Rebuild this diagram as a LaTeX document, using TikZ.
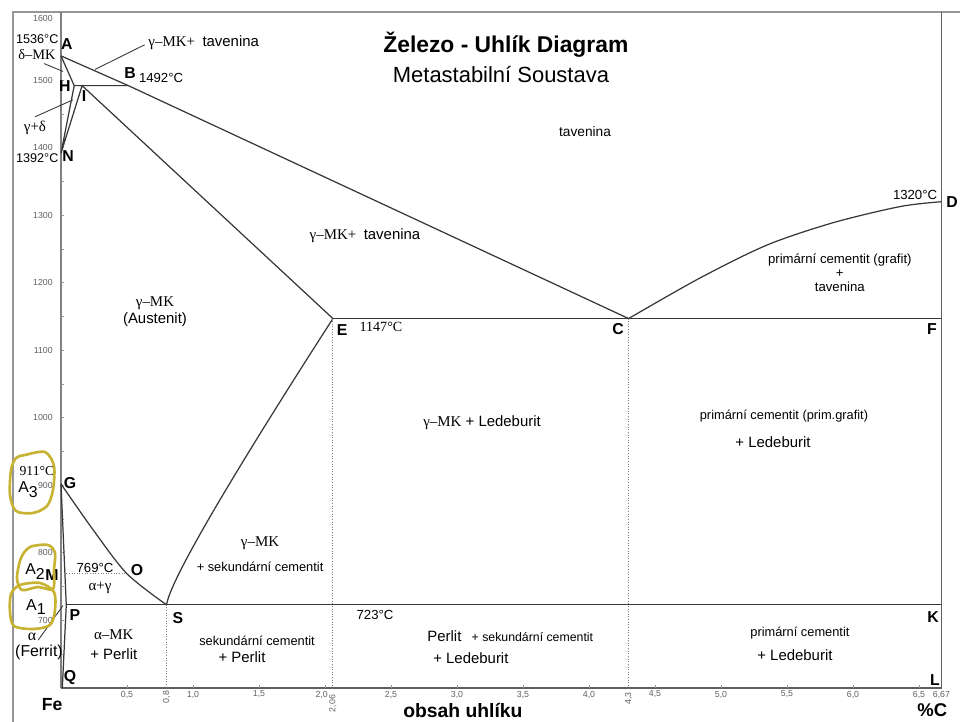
\documentclass[tikz,border=0pt]{standalone}
\usepackage{fontspec}
\setmainfont{Liberation Sans}
\newfontfamily\grk{Liberation Serif}
\usepackage{tikz}

\definecolor{linegray}{RGB}{55,55,55}
\definecolor{framegray}{RGB}{150,150,150}
\definecolor{ticktext}{RGB}{95,95,95}
\definecolor{hilite}{RGB}{200,178,50}

\tikzset{
  phase/.style={draw=linegray, line width=0.7pt},
  guide/.style={draw=gray, densely dotted, line width=0.5pt},
  leader/.style={draw=linegray, line width=0.5pt},
  ptname/.style={font=\bfseries\fontsize{9}{10}\selectfont, inner sep=0pt},
  temptxt/.style={font=\fontsize{7.5}{9}\selectfont, inner sep=0pt},
  areatxt/.style={font=\fontsize{8.5}{11}\selectfont, inner sep=0pt, align=center},
  smalltxt/.style={font=\fontsize{7.3}{8.5}\selectfont, inner sep=0pt, align=center},
  ticklbl/.style={font=\fontsize{5}{6}\selectfont, text=ticktext, inner sep=0pt},
  hand/.style={draw=hilite, line width=1.5pt, line join=round},
}

\begin{document}
\begin{tikzpicture}
    \useasboundingbox (-1.22,-0.68) rectangle (17.98,13.76);
    % outer frame
    \draw[framegray, line width=0.8pt] (-0.96,-0.68) -- (-0.96,13.52) -- (17.98,13.52);

    \begin{scope}[x=2.64cm, y=0.0135cm, yshift=-8.1cm]
    % characteristic points (%C, degC)
    \coordinate (orig) at (0,600);
    \coordinate (A) at (0,1536);
    \coordinate (B) at (0.51,1492);
    \coordinate (H) at (0.1,1492);
    \coordinate (I) at (0.16,1492);
    \coordinate (N) at (0,1392);
    \coordinate (E) at (2.06,1147);
    \coordinate (C) at (4.3,1147);
    \coordinate (F) at (6.67,1147);
    \coordinate (D) at (6.67,1320);
    \coordinate (G) at (0,902);
    \coordinate (M) at (0,769);
    \coordinate (O) at (0.5,769);
    \coordinate (P) at (0.04,723);
    \coordinate (S) at (0.8,723);
    \coordinate (K) at (6.67,723);
    \coordinate (Q) at (0.01,600);
    \coordinate (L) at (6.67,600);

    % axes
    \draw[gray, line width=0.8pt] (0,1601) -- (orig);
    \draw[linegray!80, line width=0.8pt] (orig) -- (L) -- (6.67,1601);
    \foreach \t in {650,700,...,1550}
        \draw[framegray] (0,\t) -- (0.025,\t);
    \foreach \t in {700,800,...,1500}
        \node[ticklbl, anchor=east] (y\t) at (-0.06,\t) {\t};
    \node[ticklbl, anchor=east] (y1600) at (-0.06,1592) {1600};
    \foreach \c/\l in {0.5/{0,5},1/{1,0},1.5/{1,5},2.5/{2,5},3/{3,0},3.5/{3,5},4/{4,0},4.5/{4,5},5/{5,0},5.5/{5,5},6/{6,0},6.5/{6,5}} {
        \draw[framegray] (\c,600) -- (\c,604.5);
        \node[ticklbl, anchor=north] (x\c) at (\c,596) {\l};
    }
    \draw[framegray] (2,600) -- (2,604.5);
    \node[ticklbl, anchor=north] (x2) at (1.975,596) {2,0};
    \node[ticklbl, anchor=north] (x667) at (6.67,596) {6,67};
    \node[ticklbl, anchor=east, rotate=90] (x08) at (0.8,596) {0,8};
    \node[ticklbl, anchor=east, rotate=90] (x206) at (2.06,590) {2,06};
    \node[ticklbl, anchor=east, rotate=90] (x43) at (4.3,594) {4,3};

    % phase boundaries
    \draw[phase] (A) -- (B) -- (C);
    \draw[phase] (A) -- (H) -- (B);
    \draw[phase] (H) -- (N) -- (I) -- (E);
    \draw[phase] (E) -- (F);
    \draw[phase] plot[smooth] coordinates {(4.3,1147) (4.84,1207) (5.35,1256) (5.85,1289) (6.36,1313) (6.67,1320)};
    \draw[phase] (S) .. controls (0.83,767) and (1.53,986) .. (E);
    \draw[phase] plot[smooth] coordinates {(0,902) (0.24,835) (0.5,769) (0.8,723)};
    \draw[phase] (G) -- (P) -- (Q);
    \draw[phase] (P) -- (K);
    \draw[guide] (M) -- (O);
    \draw[guide] (S) -- (S |- orig);
    \draw[guide] (E) -- (E |- orig);
    \draw[guide] (C) -- (C |- orig);

    % point letters
    \node[ptname] (lA) at (0.045,1553) {A};
    \node[ptname] (lB) at (0.523,1511) {B};
    \node[ptname] (lH) at (0.03,1492) {H};
    \node[ptname] (lI) at (0.174,1476) {I};
    \node[ptname] (lN) at (0.053,1387) {N};
    \node[ptname] (lG) at (0.068,904) {G};
    \node[ptname] (lM) at (-0.068,767) {M};
    \node[ptname] (lO) at (0.576,775) {O};
    \node[ptname] (lP) at (0.106,708) {P};
    \node[ptname] (lQ) at (0.068,616) {Q};
    \node[ptname] (lS) at (0.886,704) {S};
    \node[ptname] (lE) at (2.129,1130) {E};
    \node[ptname] (lC) at (4.22,1132) {C};
    \node[ptname] (lF) at (6.598,1132) {F};
    \node[ptname] (lD) at (6.75,1320) {D};
    \node[ptname] (lK) at (6.606,705) {K};
    \node[ptname] (lL) at (6.621,612) {L};

    % temperatures
    \node[temptxt, font=\fontsize{7.2}{9}\selectfont] (t1536) at (-0.18,1561) {1536°C};
    \node[temptxt] (t1492) at (0.758,1504) {1492°C};
    \node[temptxt, font=\fontsize{7.2}{9}\selectfont] (t1392) at (-0.18,1385) {1392°C};
    \node[temptxt, font=\grk\fontsize{7.8}{9}\selectfont] (t911) at (-0.182,921) {911°C};
    \node[temptxt] (t769) at (0.258,778) {769°C};
    \node[temptxt, font=\grk\fontsize{8}{9}\selectfont] (t1147) at (2.424,1135) {1147°C};
    \node[temptxt] (t723) at (2.379,708) {723°C};
    \node[temptxt] (t1320) at (6.47,1330) {1320°C};

    % transformation marks
    \node[areatxt, font=\fontsize{9}{10}\selectfont] (a3) at (-0.25,894) {A\raisebox{-0.55ex}{3}};
    \node[areatxt, font=\fontsize{9}{10}\selectfont] (a2) at (-0.197,772) {A\raisebox{-0.55ex}{2}};
    \node[areatxt, font=\fontsize{9}{10}\selectfont] (a1) at (-0.19,720) {A\raisebox{-0.55ex}{1}};

    % phase fields
    \node[areatxt, anchor=west] (gmtop) at (0.66,1555) {{\grk γ–MK+}\enspace tavenina};
    \node[areatxt, font=\grk\fontsize{8.2}{10}\selectfont] (dmk) at (-0.182,1538) {δ–MK};
    \node[areatxt] (gd) at (-0.197,1430) {\grk γ+δ};
    \node[areatxt, font=\fontsize{7.8}{9}\selectfont] (liq) at (3.97,1424) {tavenina};
    \node[areatxt] (gliq) at (2.303,1270) {{\grk γ–MK+}\enspace tavenina};
    \node[areatxt, font=\fontsize{8.5}{9.8}\selectfont] (aus) at (0.712,1157) {{\grk γ–MK}\\(Austenit)};
    \node[areatxt] (gled) at (3.19,993) {{\grk γ–MK} + Ledeburit};
    \node[smalltxt, font=\fontsize{7.5}{8.2}\selectfont] (cgr) at (5.9,1215) {primární cementit (grafit)\\+\\tavenina};
    \node[smalltxt] (cpg) at (5.477,1003) {primární cementit (prim.grafit)};
    \node[areatxt] (cpgl) at (5.394,964) {+ Ledeburit};
    \node[areatxt] (gsek) at (1.508,815) {\grk γ–MK};
    \node[smalltxt] (gsekc) at (1.508,779) {+ sekundární cementit};
    \node[areatxt] (ag) at (0.295,748) {\grk α+γ};
    \node[areatxt] (amk) at (0.40,664) {{\grk α–MK}\\+ Perlit};
    \node[smalltxt] (skc) at (1.485,670) {sekundární cementit};
    \node[areatxt] (skp) at (1.371,645) {+ Perlit};
    \node[areatxt, anchor=west] (psk) at (2.773,676) {Perlit {\fontsize{7}{8}\selectfont\enspace+ sekundární cementit}};
    \node[areatxt, anchor=west] (pskl) at (2.818,644) {+ Ledeburit};
    \node[smalltxt] (pc) at (5.598,681) {primární cementit};
    \node[areatxt] (pcl) at (5.56,649) {+ Ledeburit};
    \node[areatxt, font=\grk\fontsize{9}{10}\selectfont] (alpha) at (-0.22,676) {α};
    \node[areatxt, font=\fontsize{9}{10}\selectfont] (ferrit) at (-0.167,652) {(Ferrit)};

    % leaders
    \coordinate (gmtip) at (0.258,1516);
    \coordinate (dmtip) at (0.015,1513);
    \coordinate (gdtip) at (0.091,1471);
    \coordinate (altip) at (0.015,722);
    \draw[leader] (gmtip) -- ([xshift=-2pt,yshift=-1pt]gmtop.west);
    \draw[leader] ([xshift=4pt,yshift=-2pt]dmk.south) -- (dmtip);
    \draw[leader] ([yshift=2pt]gd.north) -- (gdtip);
    \draw[leader] ([xshift=1pt,yshift=-2pt]alpha.east) -- (altip);

    % titles
    \node[font=\bfseries\fontsize{13}{15}\selectfont, inner sep=0pt] (title) at (3.37,1553) {Železo - Uhlík Diagram};
    \node[font=\fontsize{12.5}{15}\selectfont, inner sep=0pt] (subtitle) at (3.333,1508) {Metastabilní Soustava};
    \node[font=\bfseries\fontsize{11}{13}\selectfont, inner sep=0pt] (xlab) at (3.045,567) {obsah uhlíku};
    \node[font=\bfseries\fontsize{10.5}{12}\selectfont, inner sep=0pt] (unit) at (6.6,567) {\%C};
    \node[font=\bfseries\fontsize{10}{12}\selectfont, inner sep=0pt] (fe) at (-0.068,575) {Fe};
    \end{scope}

    % hand drawn marks
    \draw[hand] plot[smooth cycle] coordinates {(-0.72,4.66) (-0.32,4.72) (-0.14,4.44) (-0.16,3.96) (-0.28,3.64) (-0.56,3.50) (-0.90,3.54) (-1.02,3.86) (-1.00,4.36) (-0.90,4.60)};
    \draw[hand] plot[smooth cycle] coordinates {(-0.62,2.82) (-0.26,2.86) (-0.12,2.70) (-0.14,2.36) (-0.16,1.98) (-0.46,2.02) (-0.78,1.96) (-0.88,2.20) (-0.80,2.60)};
    \draw[hand] plot[smooth cycle] coordinates {(-0.82,2.06) (-0.42,2.10) (-0.14,1.92) (-0.12,1.56) (-0.22,1.26) (-0.56,1.18) (-0.94,1.24) (-1.02,1.52) (-1.00,1.88)};
\end{tikzpicture}
\end{document}
